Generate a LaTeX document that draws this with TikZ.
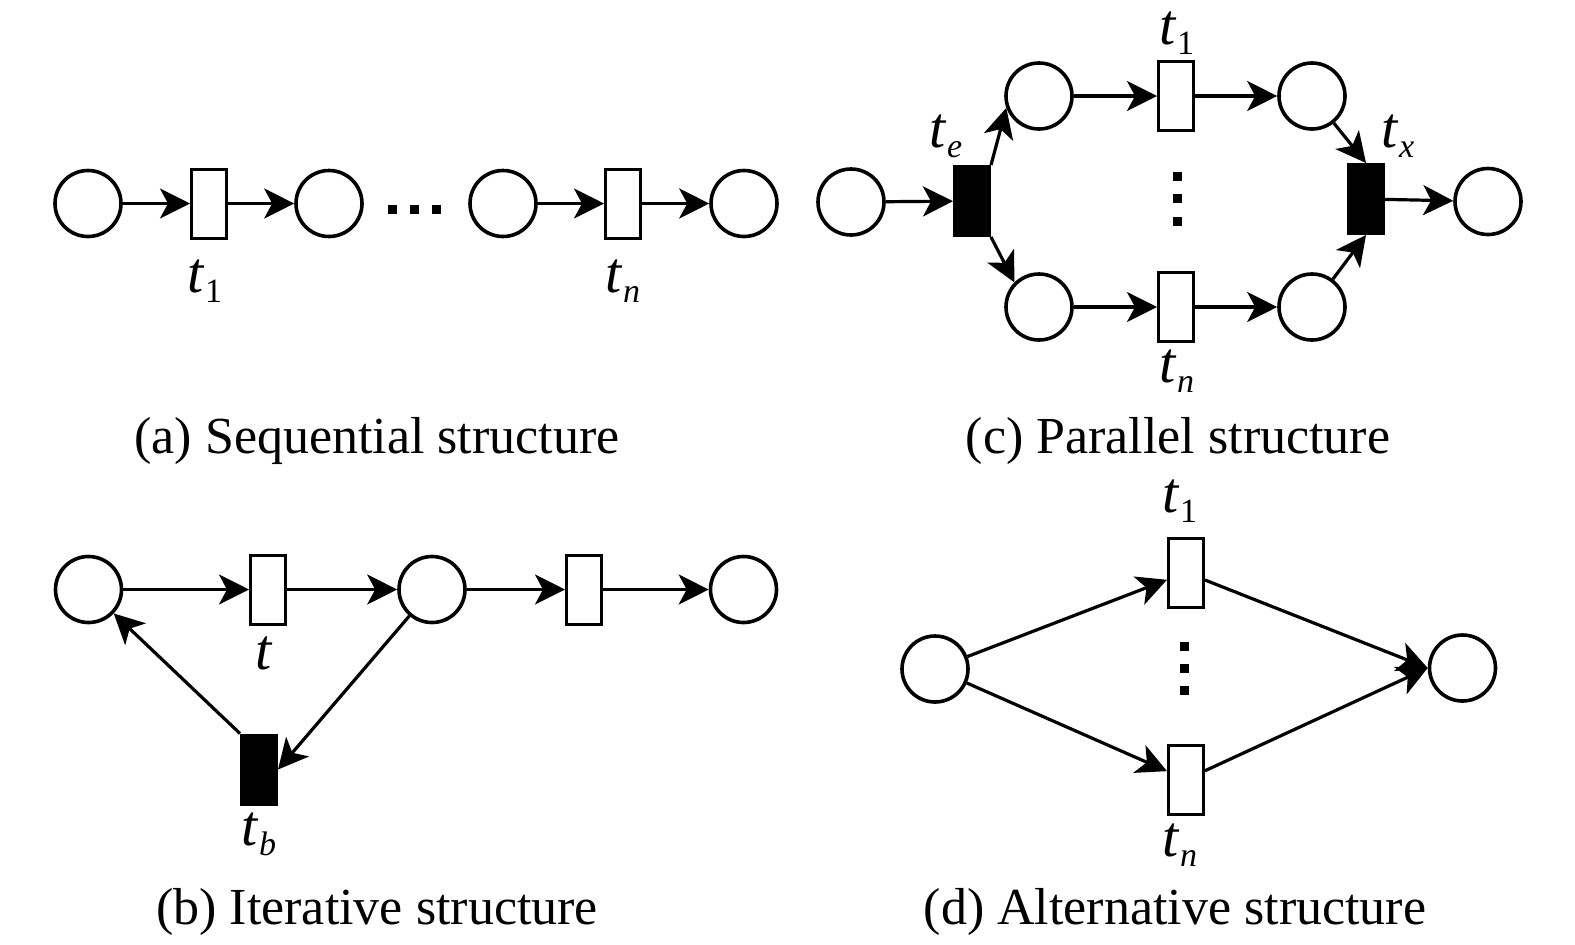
\documentclass[tikz,border=0pt]{standalone}
\usepackage{fontspec}
\setmainfont{Liberation Serif}
\usetikzlibrary{arrows.meta}
\tikzset{
  place/.style={circle,draw,line width=1.8pt,minimum size=33pt,inner sep=0pt},
  trans/.style={rectangle,draw,line width=1.5pt,minimum width=17.5pt,minimum height=34.5pt,inner sep=0pt},
  btrans/.style={trans,fill=black},
  arc/.style={-{Stealth[length=15pt,width=15pt,inset=4pt]},line width=1.6pt},
  sq/.style={rectangle,fill=black,minimum size=4.5pt,inner sep=0pt},
  lab/.style={font=\fontsize{29}{32}\selectfont,anchor=base,inner sep=0pt},
  captext/.style={font=\fontsize{26}{31}\selectfont,anchor=base,inner sep=0pt}
}
\newcommand{\tsub}[1]{\textit{t}\raisebox{-5pt}{\fontsize{17}{20}\selectfont #1}}

\begin{document}
\begin{tikzpicture}[x=0.5pt,y=-0.5pt]
\useasboundingbox (0,0) rectangle (1575,944);
% ---------- (a) sequential ----------
\node[place] (a1) at (88,203.5) {};
\node[trans] (at1) at (209,203.5) {};
\node[place] (a2) at (329,203.5) {};
\node[place] (a3) at (503,203.5) {};
\node[trans] (atn) at (623,203.5) {};
\node[place] (a4) at (744,203.5) {};
\foreach \x [count=\i] in {392,414,436}
  \node[sq] (ad\i) at (\x,209) {};
\draw[arc] (a1) -- (at1);
\draw[arc] (at1) -- (a2);
\draw[arc] (a3) -- (atn);
\draw[arc] (atn) -- (a4);
\node[lab] (lat1) at (205,292) {\tsub{1}};
\node[lab] (latn) at (623,292) {\tsub{\textit{n}}};
\node[captext] (capa) at (377,453) {(a) Sequential structure};
% ---------- (c) parallel ----------
\node[place] (c0) at (851,202) {};
\node[btrans] (te) at (972,201) {};
\node[place] (ct) at (1039,96) {};
\node[place] (cb) at (1039,307) {};
\node[trans] (ct1) at (1176,96) {};
\node[trans] (ctn) at (1176,307) {};
\node[place] (ctr) at (1312,96) {};
\node[place] (cbr) at (1312,307) {};
\node[btrans] (tx) at (1366,199) {};
\node[place] (cout) at (1488,201.5) {};
\foreach \y [count=\i] in {176,198,221}
  \node[sq] (cd\i) at (1177,\y) {};
\draw[arc] (c0) -- (te);
\draw[arc] (te.north east) -- (ct.200);
\draw[arc] (te.south east) -- (cb.north west);
\draw[arc] (ct) -- (ct1);
\draw[arc] (ct1) -- (ctr);
\draw[arc] (cb) -- (ctn);
\draw[arc] (ctn) -- (cbr);
\draw[arc] (ctr) -- (tx.north);
\draw[arc] (cbr) -- (tx.south);
\draw[arc] (tx) -- (cout);
\node[lab] (lct1) at (1177,44) {\tsub{1}};
\node[lab] (lctn) at (1177,382) {\tsub{\textit{n}}};
\node[lab] (lte) at (946,147) {\tsub{\textit{e}}};
\node[lab] (ltx) at (1398,147) {\tsub{\textit{x}}};
\node[captext] (capc) at (1178,453) {(c) Parallel structure};
% ---------- (b) iterative ----------
\node[place] (b1) at (88.5,589.5) {};
\node[trans] (bt) at (268,589.5) {};
\node[place] (b2) at (432,589.5) {};
\node[trans] (bt2) at (584,589.5) {};
\node[place] (b3) at (743.5,589.5) {};
\node[btrans] (tb) at (259,769.5) {};
\draw[arc] (b1) -- (bt);
\draw[arc] (bt) -- (b2);
\draw[arc] (b2) -- (bt2);
\draw[arc] (bt2) -- (b3);
\draw[arc] (b2) -- (tb.east);
\draw[arc] (tb.north west) -- (b1);
\node[lab] (lbt) at (264,669) {\textit{t}};
\node[lab] (ltb) at (259,845) {\tsub{\textit{b}}};
\node[captext] (capb) at (377,924) {(b) Iterative structure};
% ---------- (d) alternative ----------
\node[place] (d1) at (935,669) {};
\node[trans] (dt1) at (1186,572.5) {};
\node[trans] (dtn) at (1186,779.5) {};
\node[place] (d2) at (1462.5,668) {};
\foreach \y [count=\i] in {646,668,690}
  \node[sq] (dd\i) at (1184,\y) {};
\draw[arc] (d1) -- (dt1);
\draw[arc] (d1) -- (dtn);
\draw[arc] (dt1) -- (d2.west);
\draw[arc] (dtn) -- (d2.west);
\node[lab] (ldt1) at (1180,512) {\tsub{1}};
\node[lab] (ldtn) at (1180,856) {\tsub{\textit{n}}};
\node[captext] (capd) at (1175,924) {(d) Alternative structure};
\end{tikzpicture}
\end{document}
